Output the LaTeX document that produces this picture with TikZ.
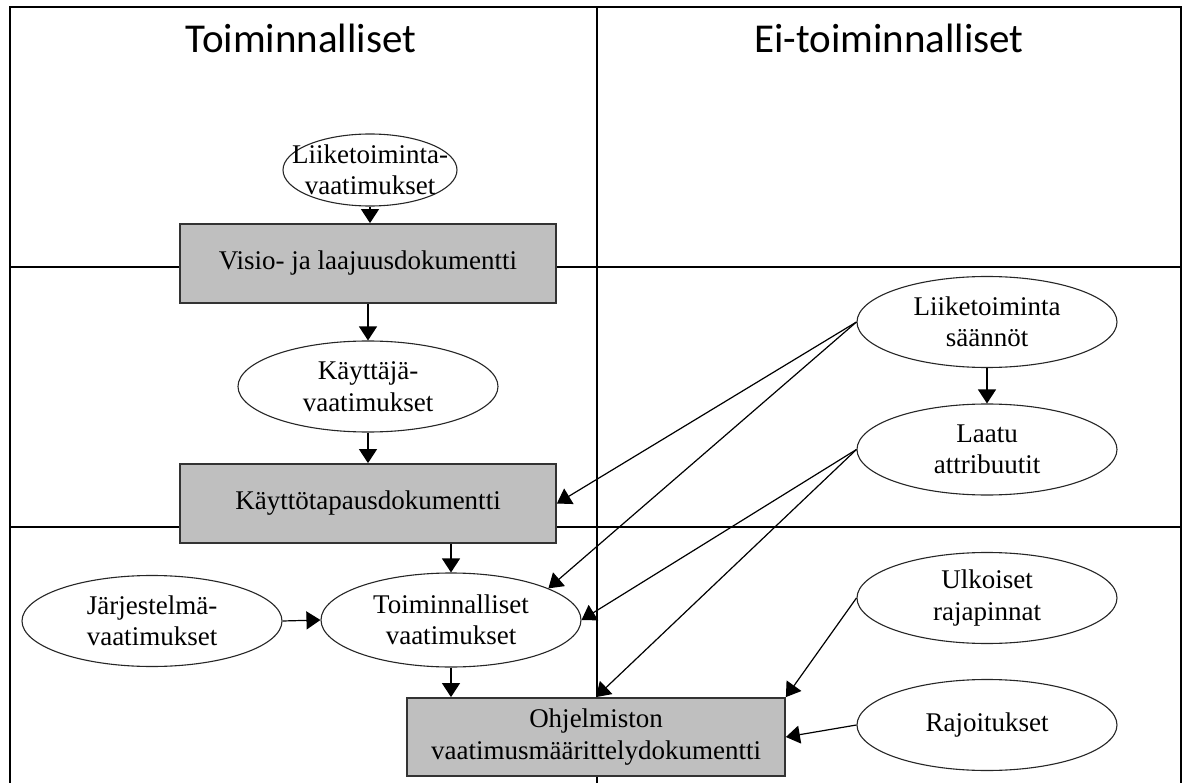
\documentclass[tikz,border=0pt]{standalone}
\usepackage{fontspec}
\setmainfont{Liberation Serif}
\newfontfamily\headfont{Carlito}
\usetikzlibrary{shapes.geometric,arrows.meta}
\begin{document}
\begin{tikzpicture}[x=1pt,y=-1pt,
  gridline/.style={draw=black,line width=1.2pt},
  docbox/.style={rectangle,draw=black!80,line width=1.8pt,fill=black!25,
    minimum width=376pt,minimum height=79pt,inner sep=0pt,align=center,
    font=\fontsize{27}{31.5}\selectfont},
  oval/.style={ellipse,draw=black!85,line width=1.1pt,fill=white,
    minimum width=260pt,minimum height=91pt,inner xsep=-40pt,inner ysep=-14pt,
    align=center,font=\fontsize{27}{31.5}\selectfont},
  heading/.style={anchor=base,inner sep=0pt,font=\headfont\fontsize{41}{48}\selectfont},
  flow/.style={draw=black,line width=1.2pt,-{Triangle[length=14pt,width=18pt]}}]
\useasboundingbox (0,0) rectangle (1186,783);

% table frame and cell borders
\draw[gridline] (10,783) -- (10,7) -- (1181,7) -- (1181,783);
\draw[gridline] (597,7) -- (597,783);
\draw[gridline] (10,267) -- (1181,267);
\draw[gridline] (10,527) -- (1181,527);

% column headings
\node[heading] (hfun) at (301,53) {Toiminnalliset};
\node[heading] (hnon) at (889,53) {Ei-toiminnalliset};

% functional chain
\node[oval,minimum width=174pt,minimum height=72pt] (lv) at (370,170) {Liiketoiminta-\\vaatimukset};
\node[docbox] (visio) at (368,263.5) {Visio- ja laajuusdokumentti};
\node[oval] (kv) at (368,386.5) {Käyttäjä-\\vaatimukset};
\node[docbox] (ktd) at (368,503.5) {Käyttötapausdokumentti};
\node[oval] (jv) at (152,621) {Järjestelmä-\\vaatimukset};
\node[oval,minimum height=94pt] (tv) at (451,620) {Toiminnalliset\\vaatimukset};
\node[docbox,minimum width=378pt,minimum height=78pt] (ovd) at (596,737) {Ohjelmiston\\vaatimusmäärittelydokumentti};

% non-functional sources
\node[oval] (ls) at (987,322) {Liiketoiminta\\säännöt};
\node[oval] (lq) at (987,449.5) {Laatu\\attribuutit};
\node[oval] (ur) at (987,598) {Ulkoiset\\rajapinnat};
\node[oval] (rj) at (987,725) {Rajoitukset};

% connectors
\draw[flow] (lv.south) -- (lv.south |- visio.north);
\draw[flow] (visio.south) -- (kv.north);
\draw[flow] (kv.south) -- (ktd.north);
\draw[flow] (tv.north |- ktd.south) -- (tv.north);
\draw[flow] (jv.east) -- (tv.west);
\draw[flow] (tv.south) -- (tv.south |- ovd.north);
\draw[flow] (ls.south) -- (lq.north);
\draw[flow] (ls.west) -- (ktd.east);
\draw[flow] (ls.west) -- (tv.18);
\draw[flow] (lq.west) -- (tv.east);
\draw[flow] (lq.west) -- (ovd.north);
\draw[flow] (ur.west) -- (ovd.north east);
\draw[flow] (rj.west) -- (ovd.east);
\end{tikzpicture}
\end{document}
